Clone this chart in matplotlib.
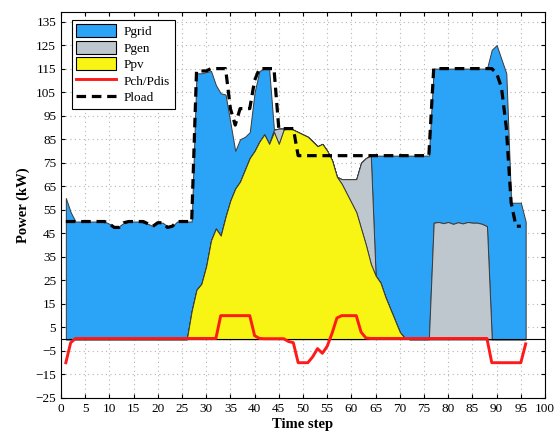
import numpy as np
import matplotlib.pyplot as plt
from matplotlib.patches import Patch
from matplotlib.lines import Line2D

plt.rcParams['font.family'] = ['Liberation Serif', 'DejaVu Serif']

t = np.arange(1, 97)

# PV output (kW)
ppv = [0]*26 + [12, 21, 23.5, 31, 42, 47, 44, 52, 59, 64, 67, 72, 77, 80, 84, 87, 83,
                88, 83, 89, 90, 89, 88, 87, 86, 84, 82, 83, 80, 76, 69, 66, 62, 58, 54,
                47, 40, 32, 27, 24, 18, 13, 8, 3, 0.5] + [0]*25

# generator output (kW)
pgen = [0]*43 + [1, 6.5, 0.5] + [0]*11 + [2, 6, 10, 14, 28, 37, 46] + [0]*12 + \
       [49.5, 49.8, 49.3, 49.8, 49.0, 49.7, 49.2, 49.8, 49.5, 49.5, 49.0, 48.0] + [0]*8

# grid import (kW)
pgrid = [60, 54, 50, 50, 50, 50, 50, 50, 50, 49, 48, 48, 49.5, 50, 50, 50, 49.5, 49,
         48, 49.5, 49.5, 48, 48, 50, 50, 50, 38, 92, 89.5, 82.5, 72, 61, 60.5, 52, 33,
         16, 18, 14, 11, 25, 30, 28, 32] + [0]*21 + \
        [51, 54, 60, 65, 70, 75, 77.5, 78, 78, 78, 78, 78] + \
        [65.5, 65.2, 65.7, 65.2, 66.0, 65.3, 65.8, 65.2, 65.5, 65.5, 66.0, 67.0] + \
        [123, 125, 119, 113, 58, 58, 58, 50]

# battery charge / discharge (kW)
pch = [-10, -1.5] + [0.3]*30 + [10, 10, 10, 10, 10, 10, 10, 1.5, 0.3, 0.2, 0.2, 0.2,
       0.2, 0.2, -1, -1.5, -10, -10, -10, -7.5, -4, -6, -3, 2.5, 9, 10, 10, 10, 10, 3,
       0.5] + [0.3]*25 + [-10]*7 + [-2]

# load demand (kW)
pload = [50]*9 + [49, 47.5, 47.5, 49.5, 50, 50, 50, 50, 49, 48, 49.5, 49.5, 47.5, 48,
         50, 50, 50, 50, 114, 114, 114, 115, 115, 115, 115, 98, 91, 98, 98, 98, 110,
         115, 115, 115, 115, 89.5, 89.5, 89.5, 89.5] + [78]*28 + [115]*13 + \
        [113, 107, 90, 58, 48, 48, np.nan]

ppv = np.array(ppv, float)
pgen = np.array(pgen, float)
pgrid = np.array(pgrid, float)
lvl1 = ppv
lvl2 = ppv + pgen
lvl3 = lvl2 + pgrid

c_grid = '#2ba3f7'
c_gen = '#bec6ce'
c_pv = '#f8f514'
edge = '#3a3a3a'

fig = plt.figure(figsize=(5.57, 4.43), dpi=100)
ax = fig.add_axes([0.1095, 0.1016, 0.869, 0.871])

ax.fill_between(t, lvl2, lvl3, facecolor=c_grid, edgecolor=edge, lw=0.7, zorder=2)
ax.fill_between(t, lvl1, lvl2, facecolor=c_gen, edgecolor=edge, lw=0.7, zorder=2)
ax.fill_between(t, 0, lvl1, facecolor=c_pv, edgecolor=edge, lw=0.7, zorder=2)
ax.axhline(0, color='black', lw=0.8, zorder=3)

ax.plot(t, pload, color='black', lw=2.3, ls=(0, (3, 1.8)), zorder=4)
ax.plot(t, pch, color='#ff1a1a', lw=2.1, zorder=5)

ax.set_xlim(0, 100)
ax.set_ylim(-25, 139)
ax.set_xticks(np.arange(0, 101, 5))
ax.set_yticks(np.arange(-25, 136, 10))
ax.tick_params(direction='in', top=True, right=True, labelsize=9.5, length=3)
ax.grid(True, ls=(0, (1, 3)), color='#b4b4b4', lw=0.8)
ax.set_axisbelow(True)
for s in ax.spines.values():
    s.set_linewidth(0.8)

ax.set_xlabel('Time step', fontsize=10.5, fontweight='bold', labelpad=2)
ax.set_ylabel('Power (kW)', fontsize=10.5, fontweight='bold', labelpad=4)

handles = [
    Patch(facecolor=c_grid, edgecolor='black', lw=0.8, label='Pgrid'),
    Patch(facecolor=c_gen, edgecolor='black', lw=0.8, label='Pgen'),
    Patch(facecolor=c_pv, edgecolor='black', lw=0.8, label='Ppv'),
    Line2D([], [], color='#ff1a1a', lw=2.1, label='Pch/Pdis'),
    Line2D([], [], color='black', lw=2.3, ls=(0, (3, 1.8)), label='Pload'),
]
leg = ax.legend(handles=handles, loc='upper left', fontsize=9.5, fancybox=False,
                edgecolor='black', framealpha=1, handlelength=3.0, handleheight=1.1,
                labelspacing=0.2, borderpad=0.35, handletextpad=0.6, borderaxespad=0,
                bbox_to_anchor=(0.022, 0.98))
leg.get_frame().set_linewidth(0.8)

fig.savefig('out.png', dpi=100)
